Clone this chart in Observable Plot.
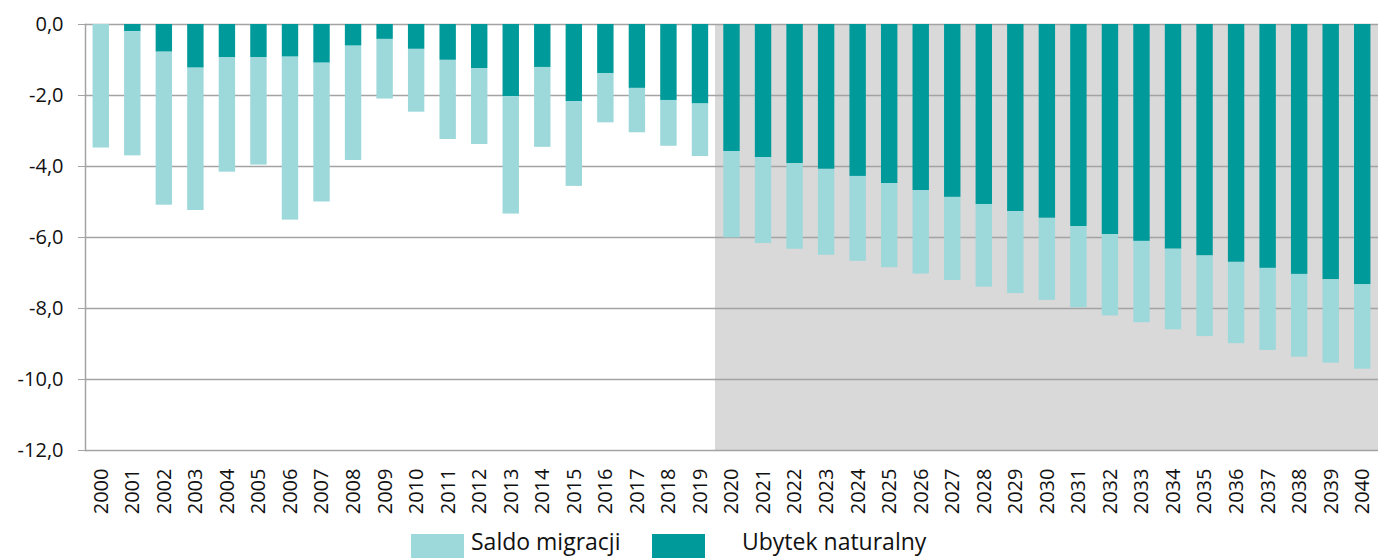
<!DOCTYPE html>
<html>
<head>
<meta charset="utf-8">
<script src="https://cdn.jsdelivr.net/npm/d3@7"></script>
<script src="https://cdn.jsdelivr.net/npm/@observablehq/plot@0.6"></script>
<style>
  html, body { margin: 0; padding: 0; overflow: hidden; background: #fff; font-family: "Open Sans", sans-serif; }
  #chart svg { display: block; max-width: none; }
  #legend { position: relative; height: 28px; font-size: 23px; color: #111; }
  .sw { position: absolute; top: 4px; width: 53px; height: 26px; }
  .lb { position: absolute; top: -5px; white-space: nowrap; line-height: 32px; }
</style>
</head>
<body>
<div id="chart"></div>
<div id="legend"></div>
<script>
const years = ["2000","2001","2002","2003","2004","2005","2006","2007","2008","2009",
  "2010","2011","2012","2013","2014","2015","2016","2017","2018","2019",
  "2020","2021","2022","2023","2024","2025","2026","2027","2028","2029",
  "2030","2031","2032","2033","2034","2035","2036","2037","2038","2039","2040"];
const projectionYears = ["2020","2021","2022","2023","2024","2025","2026","2027","2028","2029",
  "2030","2031","2032","2033","2034","2035","2036","2037","2038","2039","2040"];
const naturalLoss = [0, -0.20, -0.78, -1.23, -0.93, -0.93, -0.92, -1.09, -0.61, -0.42,
  -0.70, -1.01, -1.24, -2.03, -1.21, -2.17, -1.38, -1.80, -2.14, -2.24,
  -3.58, -3.75, -3.92, -4.08, -4.28, -4.48, -4.68, -4.87, -5.07, -5.27,
  -5.46, -5.69, -5.92, -6.11, -6.33, -6.52, -6.70, -6.87, -7.04, -7.19, -7.33];
const migration = [-3.48, -3.50, -4.31, -4.01, -3.23, -3.03, -4.59, -3.91, -3.22, -1.68,
  -1.77, -2.23, -2.14, -3.31, -2.25, -2.39, -1.39, -1.25, -1.29, -1.48,
  -2.43, -2.42, -2.41, -2.42, -2.39, -2.37, -2.35, -2.34, -2.33, -2.31,
  -2.31, -2.29, -2.29, -2.29, -2.27, -2.27, -2.29, -2.31, -2.33, -2.35, -2.38];
const yTicks = [0, -2, -4, -6, -8, -10, -12];
const seriesNames = ["Ubytek naturalny", "Saldo migracji"];
const seriesColors = ["#009a9a", "#9dd8db"];

const rows = [];
years.forEach((y, i) => {
  rows.push({year: y, series: seriesNames[0], value: naturalLoss[i]});
  rows.push({year: y, series: seriesNames[1], value: migration[i]});
});

const fmt = d => d.toFixed(1).replace(".", ",");

const chart = Plot.plot({
  width: 1378,
  height: 530,
  marginLeft: 85,
  marginRight: 0,
  marginTop: 24,
  marginBottom: 80,
  style: {fontFamily: "Open Sans, sans-serif", fontSize: "20px", color: "#111", background: "#fff", overflow: "visible"},
  x: {domain: years, paddingInner: 0.48, paddingOuter: 0.24, round: false, axis: null, label: null},
  y: {domain: [-12, 0], axis: null, label: null},
  color: {domain: seriesNames, range: seriesColors},
  marks: [
    Plot.barY(projectionYears, {x: d => d, y1: yTicks[0], y2: yTicks[yTicks.length - 1], fill: "#d9d9d9", insetLeft: -8.5, insetRight: -8.5, shapeRendering: "crispEdges"}),
    Plot.ruleY(yTicks, {stroke: "#a3a3a3", strokeWidth: 1.5}),
    Plot.frame({anchor: "left", stroke: "#a3a3a3", strokeWidth: 1.5}),
    Plot.barY(rows, Plot.stackY({x: "year", y: "value", fill: "series", z: "series", order: seriesNames})),
    Plot.axisY({ticks: yTicks, tickFormat: fmt, tickSize: 7, tickPadding: 15, stroke: "#a3a3a3", fontSize: 20, label: null}),
    Plot.axisX({tickSize: 0, tickRotate: -90, tickPadding: 18, fontSize: 20, label: null})
  ]
});
document.getElementById("chart").appendChild(chart);

const legend = document.getElementById("legend");
const legendItems = [
  {name: seriesNames[1], color: seriesColors[1], sw: 411, lb: 471},
  {name: seriesNames[0], color: seriesColors[0], sw: 652, lb: 742}
];
legendItems.forEach(it => {
  const s = document.createElement("div");
  s.className = "sw"; s.style.left = it.sw + "px"; s.style.background = it.color;
  const t = document.createElement("div");
  t.className = "lb"; t.style.left = it.lb + "px"; t.textContent = it.name;
  legend.appendChild(s); legend.appendChild(t);
});
</script>
</body>
</html>
